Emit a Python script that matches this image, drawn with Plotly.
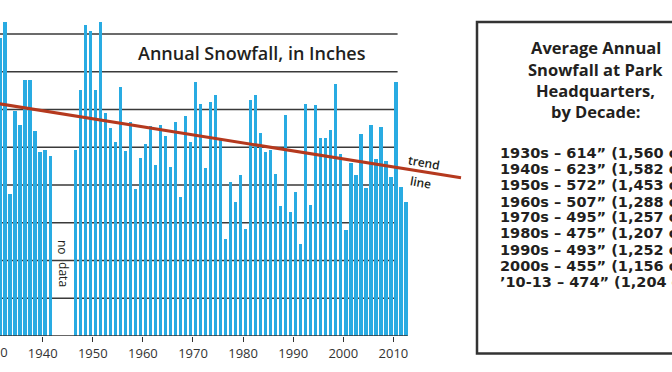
import plotly.graph_objects as go

# ---------------- data ----------------
years = [1930, 1931, 1932, 1933, 1934, 1935, 1936, 1937, 1938, 1939,
         1940, 1941,
         1946, 1947, 1948, 1949,
         1950, 1951, 1952, 1953, 1954, 1955, 1956, 1957, 1958, 1959,
         1960, 1961, 1962, 1963, 1964, 1965, 1966, 1967, 1968, 1969,
         1970, 1971, 1972, 1973, 1974, 1975, 1976, 1977, 1978, 1979,
         1980, 1981, 1982, 1983, 1984, 1985, 1986, 1987, 1988, 1989,
         1990, 1991, 1992, 1993, 1994, 1995, 1996, 1997, 1998, 1999,
         2000, 2001, 2002, 2003, 2004, 2005, 2006, 2007, 2008, 2009,
         2010, 2011, 2012]
snowfall = [600, 790, 831, 377, 597, 560, 678, 678, 544, 488,
            492, 477,
            492, 652, 823, 809,
            652, 831, 591, 550, 514, 660, 490, 567, 389, 471,
            508, 556, 453, 559, 529, 447, 566, 369, 584, 515,
            674, 615, 444, 620, 639, 518, 256, 407, 355, 427,
            283, 626, 639, 538, 488, 493, 429, 345, 586, 329,
            381, 243, 615, 347, 611, 525, 525, 546, 668, 481,
            281, 458, 427, 534, 393, 560, 470, 554, 464, 421,
            674, 395, 356]

trend_x = [1930, 2023.5]
trend_y = [618, 419]

tick_years = [1930, 1940, 1950, 1960, 1970, 1980, 1990, 2000, 2010]
grid_values = [100, 200, 300, 400, 500, 600, 700, 800]

title_text = "Annual Snowfall, in Inches"
no_data_words = ["no", "data"]
trend_words = ["trend", "line"]
box_heading = ["Average Annual", "Snowfall at Park", "Headquarters,", "by Decade:"]
box_lines = ["1930s – 614” (1,560 cm)",
             "1940s – 623” (1,582 cm)",
             "1950s – 572” (1,453 cm)",
             "1960s – 507” (1,288 cm)",
             "1970s – 495” (1,257 cm)",
             "1980s – 475” (1,207 cm)",
             "1990s – 493” (1,252 cm)",
             "2000s – 455” (1,156 cm)",
             "’10-13 – 474” (1,204 cm)"]

# ---------------- layout constants ----------------
W, H = 672, 372
PLOT_H = 336
X_RANGE = [1931.48, 2065.61]
Y_RANGE = [0, 890]
BAR_W = 0.68
BAR_COLOR = "#29ABE2"
GRID_COLOR = "#3a3a3a"
TEXT_COLOR = "#231f20"


def px_x(px):
    return px / W


def px_y(py):
    return 1 - py / PLOT_H


fig = go.Figure()

fig.add_trace(go.Bar(
    x=[y + 0.5 for y in years], y=snowfall, width=BAR_W,
    marker=dict(color=BAR_COLOR, line=dict(width=0)),
    hoverinfo="x+y",
))

fig.add_trace(go.Scatter(
    x=trend_x, y=trend_y, mode="lines",
    line=dict(color="#B5391E", width=3),
    hoverinfo="skip",
))

shapes = []
grid_end = years[-3] + 0.5 + BAR_W / 2
for g in grid_values:
    shapes.append(dict(type="line", xref="x", yref="y", x0=1925, x1=grid_end,
                       y0=g, y1=g, layer="below",
                       line=dict(color=GRID_COLOR, width=1.6)))
# baseline
shapes.append(dict(type="line", xref="x", yref="y", x0=1925,
                   x1=years[-1] + 0.5 + BAR_W / 2, y0=0, y1=0, layer="above",
                   line=dict(color="#333333", width=1.5)))
# legend box at right
shapes.append(dict(type="rect", xref="paper", yref="paper",
                   x0=px_x(477), x1=px_x(720), y0=px_y(353.5), y1=px_y(22),
                   line=dict(color="#333333", width=2.5), fillcolor="rgba(0,0,0,0)"))

annotations = []
annotations.append(dict(x=1981.8, y=750, xref="x", yref="y", text=title_text,
                        showarrow=False, xanchor="center", yanchor="middle",
                        font=dict(family="Open Sans", size=18, color=TEXT_COLOR, weight=600)))
# "no data" (rotated, reading downward)
for word, val in zip(no_data_words, [234, 162]):
    annotations.append(dict(x=1944, y=val, xref="x", yref="y", text=word,
                            showarrow=False, textangle=90,
                            font=dict(family="Open Sans", size=12, color=TEXT_COLOR)))
# trend line label
for word, xx, val in zip(trend_words, [2016.1, 2015.5], [459, 406]):
    annotations.append(dict(x=xx, y=val, xref="x", yref="y", text=word,
                            showarrow=False, textangle=10,
                            font=dict(family="Open Sans", size=12, color=TEXT_COLOR, weight=600)))
# first decade label (outside visible axis range)
annotations.append(dict(x=(tick_years[0] - X_RANGE[0]) / (X_RANGE[1] - X_RANGE[0]),
                        y=px_y(351.7), xref="paper", yref="paper", text=str(tick_years[0]),
                        showarrow=False, xanchor="center", yanchor="middle",
                        font=dict(family="Open Sans", size=13, color="#333333")))

head_y = [48, 69.5, 90.5, 111.5]
for t, yy in zip(box_heading, head_y):
    annotations.append(dict(x=px_x(595.5), y=px_y(yy), xref="paper", yref="paper",
                            text=t, showarrow=False, xanchor="center", yanchor="middle",
                            font=dict(family="Open Sans", size=16.5, color=TEXT_COLOR, weight=700)))
line_y = [153, 169, 185, 201.5, 217, 233, 249.5, 266, 282]
for t, yy in zip(box_lines, line_y):
    annotations.append(dict(x=px_x(497.5), y=px_y(yy), xref="paper", yref="paper",
                            text=t, showarrow=False, xanchor="left", yanchor="middle",
                            font=dict(family="DejaVu Sans", size=14.5, color=TEXT_COLOR, weight=700)))

fig.update_layout(
    width=W, height=H,
    margin=dict(l=0, r=0, t=0, b=H - PLOT_H, pad=0),
    paper_bgcolor="white", plot_bgcolor="white",
    showlegend=False,
    shapes=shapes, annotations=annotations,
    xaxis=dict(range=X_RANGE, tickvals=tick_years[1:], ticktext=[str(t) for t in tick_years[1:]],
               ticks="outside", ticklen=5, tickwidth=1.3, tickcolor="#333333",
               showgrid=False, zeroline=False, showline=False,
               tickfont=dict(family="Open Sans", size=13, color="#333333")),
    yaxis=dict(range=Y_RANGE, showgrid=False, zeroline=False, showline=False,
               showticklabels=False, ticks=""),
    bargap=0,
)

fig.write_html("out.html", config={"displayModeBar": False},
               post_script="document.body.style.margin='0';")
